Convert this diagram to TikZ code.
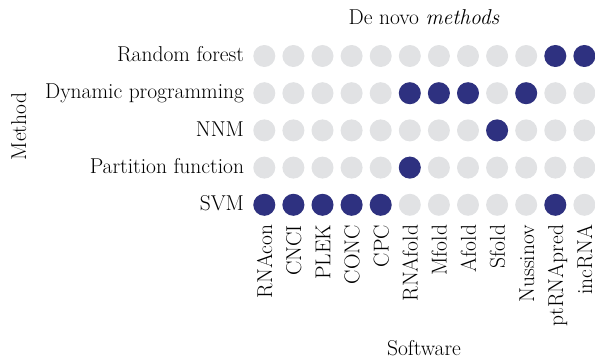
\documentclass[tikz,border=0pt]{standalone}
\usepackage{fontspec}
\setmainfont{Latin Modern Roman}
\begin{document}
\begin{tikzpicture}[x=1pt,y=1pt,
  every node/.style={inner sep=0pt, outer sep=0pt, font=\fontsize{21.5}{25}\selectfont},
  dot/.style={circle, minimum size=22pt, fill=dotoff},
  dothit/.style={circle, minimum size=22pt, fill=doton},
  rowlabel/.style={anchor=base east},
  collabel/.style={rotate=90, anchor=base east}]
\definecolor{dotoff}{RGB}{225,226,228}
\definecolor{doton}{RGB}{46,49,128}
\useasboundingbox (0,0) rectangle (595,-361);

% titles
\node[anchor=base] (title) at (424,-25) {De novo \textit{methods}};
\node[anchor=base] (xtitle) at (424,-355) {Software};
\node[rotate=90, anchor=base] (ytitle) at (26,-126.5) {Method};

% method rows
\foreach \r/\name in {1/Random forest, 2/Dynamic programming, 3/NNM, 4/Partition function, 5/SVM}
  \node[rowlabel] (row\r) at (244, {-56-37.2*(\r-1)-5.7}) {\name};

% software columns
\foreach \c/\name in {1/RNAcon, 2/CNCI, 3/PLEK, 4/CONC, 5/CPC, 6/RNAfold, 7/Mfold, 8/Afold, 9/Sfold, 10/Nussinov, 11/ptRNApred, 12/incRNA}
  \node[collabel] (col\c) at ({264.3+29.1*(\c-1)+7.8}, -225) {\name};

% grid of dots
\foreach \r in {1,...,5}
  \foreach \c in {1,...,12}
    \node[dot] (d-\r-\c) at ({264.3+29.1*(\c-1)}, {-56-37.2*(\r-1)}) {};

% methods used by each software
\foreach \r/\c in {1/11, 1/12,
                   2/6, 2/7, 2/8, 2/10,
                   3/9,
                   4/6,
                   5/1, 5/2, 5/3, 5/4, 5/5, 5/11}
  \node[dothit] (h-\r-\c) at (d-\r-\c) {};
\end{tikzpicture}
\end{document}
